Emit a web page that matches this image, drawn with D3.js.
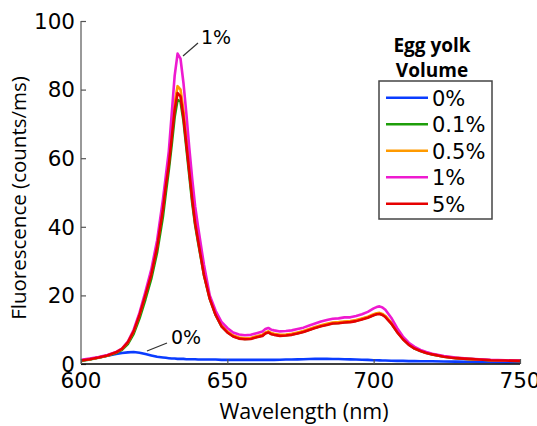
<!DOCTYPE html>
<html><head><meta charset="utf-8">
<script src="https://cdn.jsdelivr.net/npm/d3@7"></script>
<style>body{margin:0;background:#fff}svg{display:block}</style>
</head><body><svg id="c" width="537" height="426"></svg>
<script>
const wavelengths = [600,603,606,609,612,614,616,618,620,622,624,626,628,629,630,631,632,633,634,635,636,637,638,639,640,642,644,646,648,650,652,654,656,658,660,662,663,664,665,666,668,670,672,674,676,678,680,682,684,686,688,690,692,694,696,698,700,701,702,703,704,706,708,710,712,714,716,718,720,724,728,732,736,740,745,750];
const v0 = [1.0,1.4,1.9,2.4,2.9,3.2,3.4,3.5,3.3,2.9,2.5,2.1,1.9,1.8,1.7,1.6,1.6,1.5,1.5,1.5,1.4,1.4,1.4,1.4,1.3,1.3,1.3,1.3,1.2,1.2,1.2,1.2,1.2,1.2,1.2,1.2,1.2,1.2,1.2,1.2,1.25,1.3,1.3,1.35,1.4,1.45,1.5,1.5,1.5,1.45,1.45,1.4,1.35,1.3,1.25,1.2,1.1,1.1,1.05,1.0,1.0,0.95,0.9,0.9,0.85,0.85,0.8,0.8,0.8,0.75,0.7,0.65,0.6,0.6,0.55,0.5];
const v01 = [0.9,1.3,1.8,2.4,3.2,4.1,5.8,8.8,13.3,18.8,24.8,32.5,43,50,56.5,64,72,77,76.5,71,63,55,47,40.5,35.5,26,19,14.3,11,9.3,8.1,7.5,7.3,7.4,7.9,8.3,9,9.3,8.8,8.6,8.3,8.4,8.6,9,9.4,10,10.6,11.1,11.5,11.9,12,12.2,12.3,12.6,13.1,13.6,14.3,14.6,14.7,14.4,13.8,11.9,9.4,7.3,5.7,4.5,3.8,3.2,2.8,2.1,1.7,1.5,1.3,1.1,1.0,0.9];
const v05 = [1.0,1.4,1.9,2.5,3.4,4.4,6.3,9.6,14.5,20.3,26.5,34.5,46,53,59.5,67.5,76,81,80,74,66,57.5,49,42,36.8,26.6,19.4,14.7,11.3,9.5,8.3,7.7,7.5,7.6,8.1,8.5,9.2,9.5,9,8.8,8.5,8.6,8.8,9.2,9.6,10.2,10.8,11.3,11.7,12.1,12.2,12.4,12.5,12.8,13.3,13.8,14.5,14.8,14.9,14.6,14,12.1,9.6,7.4,5.8,4.6,3.9,3.3,2.9,2.2,1.8,1.5,1.3,1.1,1.0,0.9];
const v1 = [1.2,1.6,2.0,2.6,3.5,4.5,6.5,10,15,21,27.5,36,48,55,62,73,84,90.5,89,82,73,63,54,46,40,29,20,15.5,12.3,10.5,9.2,8.6,8.4,8.5,9,9.5,10.2,10.5,10,9.8,9.5,9.6,9.8,10.2,10.6,11.2,11.8,12.4,12.8,13.2,13.3,13.6,13.6,14,14.5,15.2,16.2,16.6,16.8,16.5,15.8,13.5,10.5,8,6.2,5,4.1,3.5,3,2.3,1.9,1.6,1.4,1.2,1.1,1.0];
const v5 = [1.0,1.4,1.9,2.5,3.4,4.4,6.3,9.5,14.3,20,26,34,45,52,58,66,74,79,78,72,64,56,48,41,36,26,19,14.3,11,9.2,8,7.4,7.2,7.3,7.8,8.2,8.9,9.2,8.7,8.5,8.2,8.3,8.5,8.9,9.3,9.9,10.5,11.0,11.4,11.8,11.9,12.1,12.2,12.5,13,13.5,14.2,14.5,14.6,14.3,13.7,11.8,9.3,7.2,5.6,4.5,3.8,3.2,2.8,2.1,1.7,1.5,1.3,1.1,1.0,0.9];
const seriesNames = ["0%","0.1%","0.5%","1%","5%"];
const seriesColors = ["#0a3cff","#1e9e0a","#ff9a00","#ee1ad0","#e60000"];
const xTicks = [600,650,700,750];
const yTicks = [0,20,40,60,80,100];
const legendTitle = ["Egg yolk","Volume"];

const allValues = [v0,v01,v05,v1,v5];
const drawOrder = [0,1,2,3,4];
const svg = d3.select("#c");
svg.append("rect").attr("width",537).attr("height",426).attr("fill","#fff");
const x = d3.scaleLinear().domain([600,750]).range([81,520]);
const y = d3.scaleLinear().domain([0,100]).range([364,21]);
const tickFont = "DejaVu Sans";
const titleFont = "'Open Sans', sans-serif";

// lines
const line = d3.line().x((d,i)=>x(wavelengths[i])).y(d=>y(d));
drawOrder.forEach(k=>{
  svg.append("path").datum(allValues[k]).attr("d",line)
    .attr("fill","none").attr("stroke",seriesColors[k]).attr("stroke-width",2.6)
    .attr("stroke-linejoin","round");
});

// y axis
const gy = svg.append("g").attr("transform","translate(81,0)")
  .call(d3.axisRight(y).tickValues(yTicks).tickSize(5).tickFormat(""));
gy.select(".domain").attr("stroke","#777").attr("stroke-width",1.5).attr("d","M0,21V364");
gy.selectAll(".tick line").attr("stroke","#555").attr("stroke-width",1.2);
svg.append("g").selectAll("text").data(yTicks).join("text")
  .attr("x",75).attr("y",d=>y(d)).attr("dy","0.36em").attr("text-anchor","end")
  .attr("font-family",tickFont).attr("font-size",21.5).attr("fill","#000").text(d=>d);

// x axis
const gx = svg.append("g").attr("transform","translate(0,364)")
  .call(d3.axisTop(x).tickValues(xTicks).tickSize(5).tickFormat(""));
gx.select(".domain").attr("stroke","#000").attr("stroke-width",1.5).attr("d","M81,0H520");
gx.selectAll(".tick line").attr("stroke","#555").attr("stroke-width",1.2);
svg.append("g").selectAll("text").data(xTicks).join("text")
  .attr("x",d=>x(d)).attr("y",388).attr("text-anchor","middle")
  .attr("font-family",tickFont).attr("font-size",21.5).attr("fill","#000").text(d=>d);

// axis titles
svg.append("text").attr("x",304).attr("y",419).attr("text-anchor","middle")
  .attr("font-family",titleFont).attr("font-size",21.5).attr("fill","#000").text("Wavelength (nm)");
svg.append("text").attr("transform","translate(26,198) rotate(-90)").attr("text-anchor","middle")
  .attr("font-family",titleFont).attr("font-size",20.5).attr("fill","#000").text("Fluorescence (counts/ms)");

// annotations
svg.append("line").attr("x1",183).attr("y1",56).attr("x2",198).attr("y2",43).attr("stroke","#333").attr("stroke-width",1.2);
svg.append("text").attr("x",201).attr("y",44).attr("font-family",tickFont).attr("font-size",19).text("1%");
svg.append("line").attr("x1",147).attr("y1",351).attr("x2",167).attr("y2",343).attr("stroke","#333").attr("stroke-width",1.2);
svg.append("text").attr("x",171).attr("y",344).attr("font-family",tickFont).attr("font-size",19).text("0%");

// legend
svg.append("g").selectAll("text").data(legendTitle).join("text")
  .attr("x",432).attr("y",(d,i)=>52+i*25).attr("text-anchor","middle")
  .attr("font-family",titleFont).attr("font-weight","bold").attr("font-size",19).text(d=>d);
svg.append("rect").attr("x",379).attr("y",81).attr("width",113).attr("height",138)
  .attr("fill","#fff").attr("stroke","#444").attr("stroke-width",1.5);
const rowY = d3.scalePoint().domain(seriesNames).range([97.7,203.7]);
const lg = svg.append("g").selectAll("g").data(seriesNames).join("g")
  .attr("transform",d=>`translate(0,${rowY(d)})`);
lg.append("line").attr("x1",386).attr("x2",428).attr("stroke",(d,i)=>seriesColors[i]).attr("stroke-width",2.6);
lg.append("text").attr("x",432).attr("y",8).attr("font-family",tickFont).attr("font-size",21).text(d=>d);
</script></body></html>
